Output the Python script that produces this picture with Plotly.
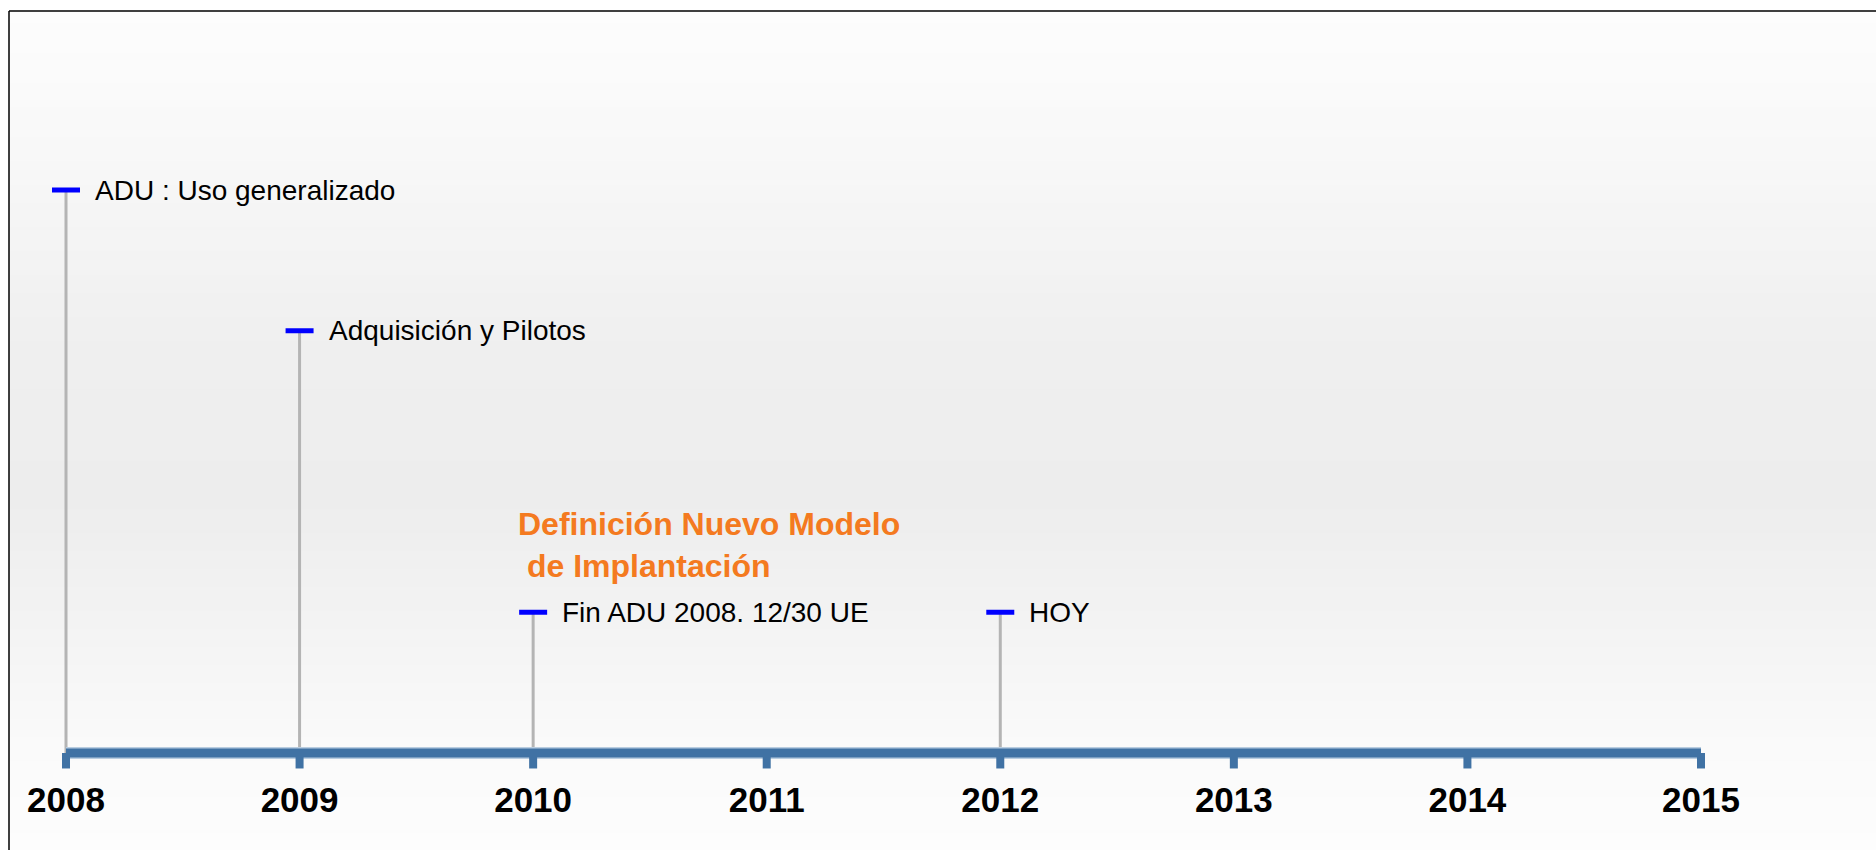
import plotly.graph_objects as go

# ---------------- data ----------------
years = [2008, 2009, 2010, 2011, 2012, 2013, 2014, 2015]
year_labels = ["2008", "2009", "2010", "2011", "2012", "2013", "2014", "2015"]

event_years = [2008, 2009, 2010, 2012]
event_levels = [4, 3, 1, 1]
event_labels = ["ADU : Uso generalizado", "Adquisición y Pilotos",
                "Fin ADU 2008. 12/30 UE", "HOY"]

note_year = 2010
note_level = 1
note_text = "<b>Definición Nuevo Modelo<br> de Implantación</b>"

# ---------------- geometry ----------------
W, H = 1876, 850
PPY = 233.57           # pixels per year
X0_PX = 66             # pixel of first year
AXIS_PX = 753          # pixel row of the timeline
UNIT = 140.75          # pixels per level unit

x0 = years[0] - X0_PX / PPY
x1 = x0 + W / PPY
y0 = -(H - AXIS_PX) / UNIT
y1 = AXIS_PX / UNIT

fig = go.Figure()

# stems
sx, sy = [], []
for yr, lv in zip(event_years, event_levels):
    sx += [yr, yr, None]
    sy += [0, lv, None]
fig.add_trace(go.Scatter(x=sx, y=sy, mode="lines",
                         line=dict(color="#b4b4b4", width=3),
                         hoverinfo="skip", showlegend=False))

# timeline (light rim + main)
fig.add_trace(go.Scatter(x=[years[0], years[-1]], y=[0, 0], mode="lines",
                         line=dict(color="#b9cde0", width=12),
                         hoverinfo="skip", showlegend=False))
# tick bumps
tx, ty = [], []
for yr in years:
    tx += [yr, yr, None]
    ty += [0, -0.11, None]
fig.add_trace(go.Scatter(x=tx, y=ty, mode="lines",
                         line=dict(color="#4072a4", width=8),
                         hoverinfo="skip", showlegend=False))
fig.add_trace(go.Scatter(x=[years[0], years[-1]], y=[0, 0], mode="lines",
                         line=dict(color="#4072a4", width=9),
                         hoverinfo="skip", showlegend=False))

# event markers
fig.add_trace(go.Scatter(x=event_years, y=event_levels, mode="markers",
                         marker=dict(symbol="line-ew", size=20,
                                     line=dict(color="#0000ff", width=5)),
                         hoverinfo="skip", showlegend=False))

# year labels
fig.add_trace(go.Scatter(x=years, y=[-50 / UNIT] * len(years), mode="text",
                         text=year_labels, textposition="middle center",
                         textfont=dict(family="Liberation Sans", size=35,
                                       color="black", weight="bold"),
                         hoverinfo="skip", showlegend=False))

annotations = []
for yr, lv, lab in zip(event_years, event_levels, event_labels):
    annotations.append(dict(x=yr, y=lv, text=lab, showarrow=False,
                            xanchor="left", yanchor="middle", xshift=27,
                            font=dict(family="Liberation Sans", size=28,
                                      color="black")))
annotations.append(dict(x=note_year, y=note_level, text=note_text,
                        showarrow=False, xanchor="left", yanchor="middle",
                        xshift=-17, yshift=67, align="left",
                        font=dict(family="Liberation Sans", size=32,
                                  color="#f47a20")))

# background gradient bands
stops = [(11, 253), (150, 248), (350, 239), (500, 237), (640, 244),
         (745, 250), (850, 253)]


def gray_at(p):
    for (pa, ga), (pb, gb) in zip(stops[:-1], stops[1:]):
        if pa <= p <= pb:
            return ga + (gb - ga) * (p - pa) / (pb - pa)
    return 253


shapes = []
step = 6
p = 11
while p < H:
    q = min(p + step, H)
    g = int(round(gray_at((p + q) / 2)))
    shapes.append(dict(type="rect", xref="paper", yref="paper",
                       x0=9 / W, x1=1.0, y0=1 - q / H, y1=1 - p / H,
                       fillcolor=f"rgb({g},{g},{g})", line=dict(width=0),
                       layer="below"))
    p = q

# border (top + left)
shapes.append(dict(type="line", xref="paper", yref="paper",
                   x0=9 / W, x1=1.0, y0=1 - 11 / H, y1=1 - 11 / H,
                   line=dict(color="black", width=1.5)))
shapes.append(dict(type="line", xref="paper", yref="paper",
                   x0=9 / W, x1=9 / W, y0=0, y1=1 - 11 / H,
                   line=dict(color="black", width=1.5)))

fig.update_layout(
    width=W, height=H,
    margin=dict(l=0, r=0, t=0, b=0),
    paper_bgcolor="white", plot_bgcolor="rgba(0,0,0,0)",
    xaxis=dict(range=[x0, x1], visible=False, fixedrange=True),
    yaxis=dict(range=[y0, y1], visible=False, fixedrange=True),
    shapes=shapes, annotations=annotations,
    hovermode=False,
)

fig.write_html(
    "out.html",
    config={"displayModeBar": False},
    post_script="document.body.style.margin='0';"
                "document.body.style.overflow='hidden';",
)
